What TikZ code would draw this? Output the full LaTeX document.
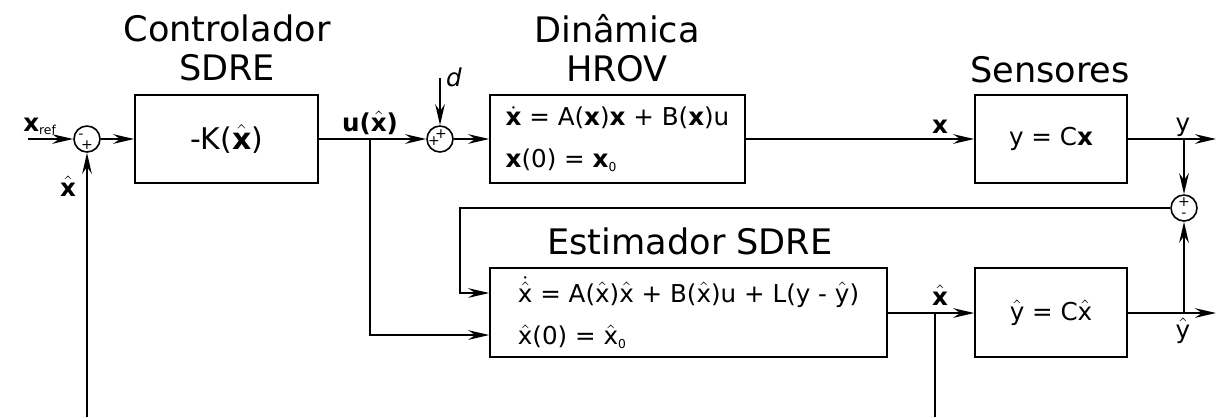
\documentclass[tikz,border=0pt]{standalone}
\usepackage{amsmath}
\usepackage{fontspec}
\setmainfont{DejaVu Sans}
\usetikzlibrary{arrows.meta,positioning,calc}

\newcommand{\bx}{\textbf{x}}
\newcommand{\hx}{\ensuremath{\hat{\text{x}}}}
\newcommand{\hbx}{\ensuremath{\hat{\textbf{x}}}}
\newcommand{\dbx}{\ensuremath{\dot{\textbf{x}}}}
\newcommand{\dhx}{\ensuremath{\dot{\hat{\text{x}}}}}
\newcommand{\hy}{\ensuremath{\hat{\text{y}}}}
\newcommand{\sub}[1]{\textsubscript{\fontsize{7}{7}\selectfont #1}}

\tikzset{
  block/.style={
    draw,
    line width=0.9pt,
    minimum height=1.76cm,
    inner sep=0pt,
    font=\fontsize{14}{24}\selectfont,
    align=left
  },
  sumnode/.style={
    draw,
    circle,
    line width=0.9pt,
    minimum size=0.52cm,
    inner sep=0pt
  },
  sgn/.style={
    inner sep=0pt,
    font=\fontsize{8}{8}\selectfont
  },
  sig/.style={
    line width=0.9pt,
    -{Stealth[length=12pt,width=5.5pt,inset=4pt]}
  },
  wire/.style={
    line width=0.9pt
  },
  heading/.style={
    font=\fontsize{20}{22}\selectfont,
    align=center,
    inner sep=0pt
  },
  lbl/.style={
    font=\fontsize{14}{16}\selectfont,
    inner sep=0pt
  }
}

\begin{document}
\begin{tikzpicture}[x=0.02cm, y=-0.02cm]
  \useasboundingbox (0,0) rectangle (1219,417);

  % blocks
  \node[block, minimum width=3.66cm] (ctrl) at (226.5,139) {\fontsize{17}{20}\selectfont -K(\hbx)};
  \node[block, minimum width=5.1cm] (dyn) at (617.5,139) {\dbx{} = A(\bx)\bx{} + B(\bx)u\\ \bx(0) = \bx\sub{0}};
  \node[block, minimum width=3.04cm] (sens) at (1051,139) {y = C\bx};
  \node[block, minimum width=7.94cm, minimum height=1.78cm] (est) at (688.5,312.5) {\dhx{} = A(\hx)\hx{} + B(\hx)u + L(y - \hy)\\ \hx(0) = \hx\sub{0}};
  \node[block, minimum width=3.04cm, minimum height=1.78cm] (yh) at (1051,312.5) {\hy{} = C\hx};

  % headings
  \node[heading] (tctrl) at (227,48) {Controlador\\SDRE};
  \node[heading] (tdyn) at (617,48) {Dinâmica\\HROV};
  \node[heading] (tsens) at (1050,70) {Sensores};
  \node[heading] (test) at (690,241) {Estimador SDRE};

  % summing junctions
  \node[sumnode] (s1) at (87,139) {};
  \node[sgn] at ([shift={(-6,-3)}]s1.center) {-};
  \node[sgn] at ([shift={(0,6)}]s1.center) {+};
  \node[sumnode] (s2) at (440,139) {};
  \node[sgn] at ([shift={(-6,2)}]s2.center) {+};
  \node[sgn] at ([shift={(1,-5)}]s2.center) {+};
  \node[sumnode] (s3) at (1184,208) {};
  \node[sgn] at ([shift={(0,-6)}]s3.center) {+};
  \node[sgn] at ([shift={(0,7)}]s3.center) {-};

  % free ends and branch points
  \coordinate (xin) at (28,139);
  \coordinate (din) at (440,78);
  \coordinate (ub) at (370,139);
  \coordinate (yb) at (1184,139);
  \coordinate (yout) at (1216,139);
  \coordinate (fb) at (460,208);
  \coordinate (estin1) at (est.west |- 0,293);
  \coordinate (estin2) at (est.west |- 0,335);
  \coordinate (xb) at (935,313);
  \coordinate (xend) at (935,417);
  \coordinate (yhb) at (1184,313);
  \coordinate (yhout) at (1216,313);
  \coordinate (fbin) at (87,417);

  % signals
  \draw[sig] (xin) -- (s1);
  \draw[sig] (s1) -- (ctrl);
  \draw[sig] (ctrl) -- (s2);
  \draw[sig] (din) -- (s2);
  \draw[sig] (s2) -- (dyn);
  \draw[sig] (dyn.east |- 0,139) -- (sens);
  \draw[sig] (sens) -- (yout);
  \draw[sig] (yb) -- (s3);
  \draw[sig] (s3) -- (fb) |- (estin1);
  \draw[sig] (ub) |- (estin2);
  \draw[sig] (est.east |- 0,313) -- (yh.west |- 0,313);
  \draw[wire] (xb) -- (xend);
  \draw[sig] (yh.east |- 0,313) -- (yhout);
  \draw[sig] (yhb) -- (s3);
  \draw[sig] (fbin) -- (s1);

  % labels
  \node[lbl, anchor=base] (lxref) at (40,131) {\bx\sub{ref}};
  \node[lbl, anchor=base] (lfb) at (68,196) {\hbx};
  \node[lbl, anchor=base] (lu) at (370,131) {\textbf{u(\hbx)}};
  \node[lbl, anchor=base] (ld) at (454,86) {\itshape d};
  \node[lbl, anchor=base] (lx) at (940,133) {\bx};
  \node[lbl, anchor=base] (ly) at (1183,131) {y};
  \node[lbl, anchor=base] (lxh) at (940,305) {\hbx};
  \node[lbl, anchor=base] (lyh) at (1183,338) {\hy};
\end{tikzpicture}
\end{document}
